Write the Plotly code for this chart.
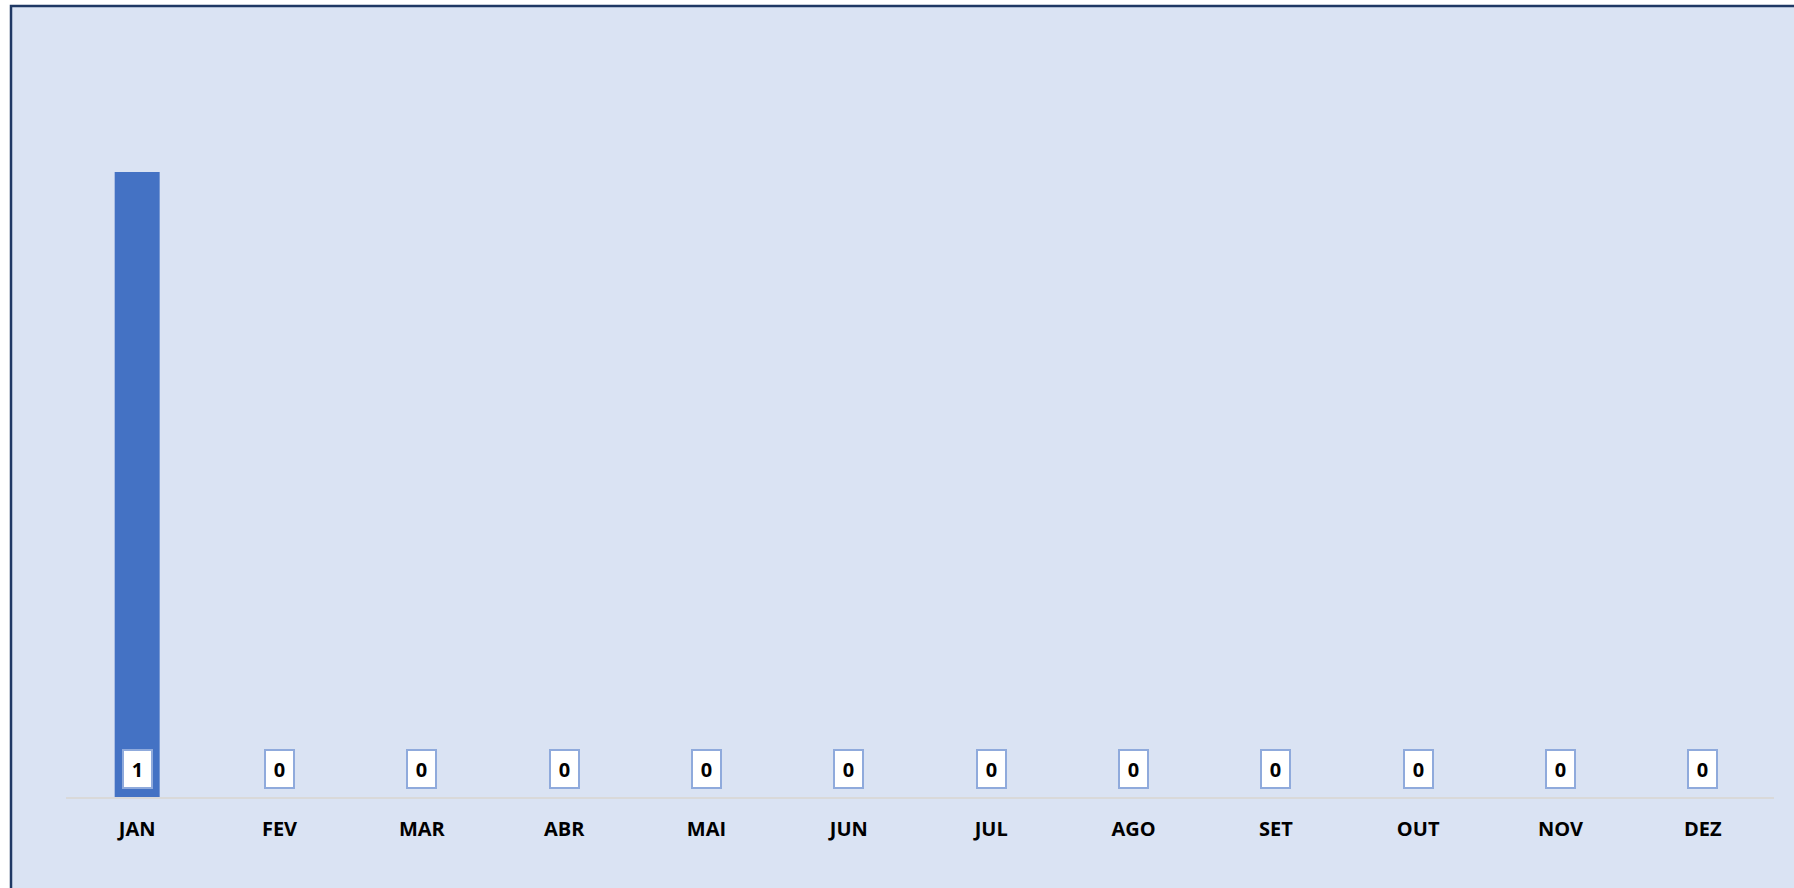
import plotly.graph_objects as go

# data
months = ['JAN', 'FEV', 'MAR', 'ABR', 'MAI', 'JUN', 'JUL', 'AGO', 'SET', 'OUT', 'NOV', 'DEZ']
counts = [1, 0, 0, 0, 0, 0, 0, 0, 0, 0, 0, 0]

W, H = 1794, 888
L, R, T, B = 66, 20, 47, 91
plot_w = W - L - R
plot_h = H - T - B

fig = go.Figure()
fig.add_trace(go.Bar(
    x=months, y=counts,
    marker=dict(color='#4472C4', line=dict(width=0)),
    width=0.316,
    hoverinfo='x+y',
))

# value labels in white boxes sitting at the base of each column
for m, c in zip(months, counts):
    fig.add_annotation(
        x=m, y=0, yanchor='bottom', yshift=8,
        text=f'<b>{c}</b>', showarrow=False,
        font=dict(family='Open Sans', size=20, color='#000000'),
        bgcolor='#FFFFFF', bordercolor='#8FAADC', borderwidth=2,
        width=27, height=36, borderpad=0,
    )

# framed light blue chart area (frame runs off the right and bottom edges)
fig.add_shape(
    type='rect', xref='paper', yref='paper', layer='below',
    x0=(11 - L) / plot_w, x1=(1810 - L) / plot_w,
    y0=-(900 - (H - B)) / plot_h, y1=((H - B) - 6) / plot_h,
    fillcolor='#DAE3F3', line=dict(color='#1F3864', width=2.5),
)

fig.update_layout(
    width=W, height=H,
    margin=dict(l=L, r=R, t=T, b=B),
    paper_bgcolor='#FFFFFF',
    plot_bgcolor='rgba(0,0,0,0)',
    showlegend=False,
    xaxis=dict(
        showline=True, linecolor='#D9D9D9', linewidth=1.5,
        showgrid=False, ticks='', ticklabelstandoff=13,
        tickfont=dict(family='Open Sans', size=20, color='#000000', weight='bold'),
    ),
    yaxis=dict(
        range=[0, 1.2], showgrid=False, zeroline=False,
        showticklabels=False, showline=False,
    ),
)

fig.write_html('out.html', config={'displayModeBar': False},
               post_script="document.body.style.margin='0';")
